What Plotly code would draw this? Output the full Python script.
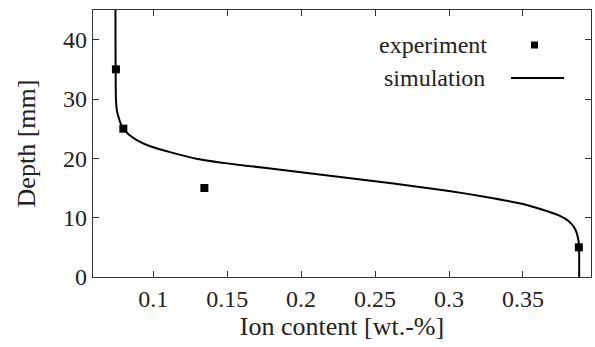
import plotly.graph_objects as go

# Experiment data
exp_ion = [0.0748, 0.0798, 0.1346, 0.3878]
exp_depth = [35, 25, 15, 5]

# Simulation curve
sim_ion = [0.0745, 0.0745, 0.0746, 0.0748, 0.0755, 0.0765, 0.0778, 0.0798, 0.0835,
           0.0895, 0.0985, 0.112, 0.130, 0.150, 0.175, 0.200, 0.225,
           0.25, 0.275, 0.30, 0.325, 0.35, 0.365, 0.375, 0.381, 0.3845, 0.3865,
           0.3876, 0.388, 0.388]
sim_depth = [45, 40, 35, 30, 28, 27, 26, 25, 24,
             23, 22, 21, 19.9, 19.15, 18.4, 17.65, 16.9,
             16.15, 15.35, 14.5, 13.5, 12.3, 11.2, 10.3, 9.4, 8.4, 7.3,
             6.0, 4.0, 0]

x_ticks = [0.1, 0.15, 0.2, 0.25, 0.3, 0.35]
x_ticktext = ["0.1", "0.15", "0.2", "0.25", "0.3", "0.35"]
y_ticks = [0, 10, 20, 30, 40]

FONT = "Liberation Serif"
TXT = "#222222"

fig = go.Figure()
fig.add_trace(go.Scatter(x=sim_ion, y=sim_depth, mode="lines", name="simulation",
                         line=dict(color="black", width=2, shape="spline", smoothing=0.5),
                         showlegend=False))
fig.add_trace(go.Scatter(x=exp_ion, y=exp_depth, mode="markers", name="experiment",
                         marker=dict(symbol="square", size=8, color="black"),
                         showlegend=False))

axis_common = dict(showgrid=False, zeroline=False, showline=True, linecolor="#333333",
                   linewidth=1.3, mirror="ticks", ticks="inside", ticklen=6,
                   tickcolor="#333333", tickwidth=1.3,
                   tickfont=dict(family=FONT, size=24, color=TXT))

fig.update_xaxes(range=[0.0593, 0.396], tickvals=x_ticks, ticktext=x_ticktext,
                 title=dict(text="Ion content [wt.-%]", standoff=4,
                            font=dict(family=FONT, size=26, color=TXT)),
                 **axis_common)
fig.update_yaxes(range=[0, 45], tickvals=y_ticks,
                 title=dict(text="Depth [mm]", standoff=19,
                            font=dict(family=FONT, size=26, color=TXT)),
                 **axis_common)

L, R, T, B = 93, 4, 10, 70
fig.update_layout(
    width=595, height=347,
    margin=dict(l=L, r=R, t=T, b=B),
    plot_bgcolor="white", paper_bgcolor="white",
    showlegend=False,
    font=dict(family=FONT, size=24, color=TXT),
)

# Legend drawn manually (text left of symbol), pixel -> paper coords
pw, ph = 595 - L - R, 347 - T - B
def px(x):
    return (x - L) / pw
def py(y):
    return (347 - B - y) / ph

fig.add_annotation(x=px(489), y=py(45), xref="paper", yref="paper", text="experiment",
                   showarrow=False, xanchor="right", yanchor="middle",
                   font=dict(family=FONT, size=24, color=TXT))
fig.add_annotation(x=px(487), y=py(78), xref="paper", yref="paper", text="simulation",
                   showarrow=False, xanchor="right", yanchor="middle",
                   font=dict(family=FONT, size=24, color=TXT))
fig.add_shape(type="rect", xref="paper", yref="paper",
              x0=px(531), x1=px(538), y0=py(48.5), y1=py(41.5),
              fillcolor="black", line=dict(width=0))
fig.add_shape(type="line", xref="paper", yref="paper",
              x0=px(511), x1=px(564), y0=py(78), y1=py(78),
              line=dict(color="black", width=1.8))

fig.write_html("out.html")
